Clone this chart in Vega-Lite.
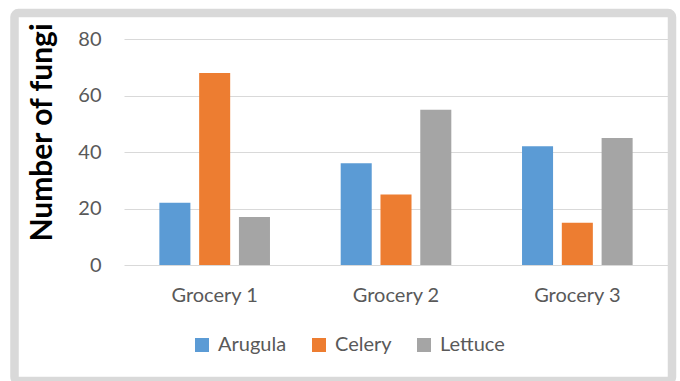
{
  "$schema": "https://vega.github.io/schema/vega-lite/v6.json",
  "autosize": {"type": "none"},
  "width": 657.5,
  "height": 368,
  "padding": {"left": 14.5, "top": 13, "right": 8, "bottom": 0},
  "background": "white",
  "view": {"fill": "white", "stroke": "#d9d9d9", "strokeWidth": 8.5, "cornerRadius": 4},
  "data": {
    "values": [
      {"store": "Grocery 1", "vegetable": "Arugula", "fungi": 22},
      {"store": "Grocery 1", "vegetable": "Celery", "fungi": 68},
      {"store": "Grocery 1", "vegetable": "Lettuce", "fungi": 17},
      {"store": "Grocery 2", "vegetable": "Arugula", "fungi": 36},
      {"store": "Grocery 2", "vegetable": "Celery", "fungi": 25},
      {"store": "Grocery 2", "vegetable": "Lettuce", "fungi": 55},
      {"store": "Grocery 3", "vegetable": "Arugula", "fungi": 42},
      {"store": "Grocery 3", "vegetable": "Celery", "fungi": 15},
      {"store": "Grocery 3", "vegetable": "Lettuce", "fungi": 45}
    ]
  },
  "mark": {"type": "bar"},
  "encoding": {
    "x": {
      "field": "store",
      "type": "nominal",
      "sort": ["Grocery 1", "Grocery 2", "Grocery 3"],
      "scale": {"range": [109.5, 653.5], "paddingInner": 0.39, "paddingOuter": 0.195},
      "axis": {
        "title": null,
        "orient": "bottom",
        "offset": -116,
        "domain": false,
        "ticks": false,
        "grid": false,
        "labelAngle": 0,
        "labelPadding": 20,
        "labelFont": "Lato",
        "labelFontSize": 20,
        "labelColor": "#595959"
      }
    },
    "xOffset": {
      "field": "vegetable",
      "type": "nominal",
      "sort": ["Arugula", "Celery", "Lettuce"],
      "scale": {"paddingInner": 0.22, "paddingOuter": 0}
    },
    "y": {
      "field": "fungi",
      "type": "quantitative",
      "scale": {"domain": [0, 80], "range": [252, 26], "nice": false, "zero": true},
      "axis": {
        "title": "Number of fungi",
        "values": [0, 20, 40, 60, 80],
        "offset": -86.5,
        "domain": false,
        "ticks": false,
        "grid": true,
        "gridColor": "#d9d9d9",
        "gridWidth": 1.2,
        "labelPadding": 0,
        "labelFont": "Lato",
        "labelFontSize": 20,
        "labelColor": "#595959",
        "titleFont": "Lato",
        "titleFontSize": 30,
        "titleFontWeight": "bold",
        "titleColor": "#000000",
        "titleX": -44,
        "titleY": 119,
        "titleAngle": -90,
        "titleAlign": "center",
        "titleBaseline": "bottom"
      }
    },
    "color": {
      "field": "vegetable",
      "type": "nominal",
      "sort": ["Arugula", "Celery", "Lettuce"],
      "scale": {"domain": ["Arugula", "Celery", "Lettuce"], "range": ["#5B9BD5", "#ED7D31", "#A5A5A5"]},
      "legend": {
        "title": null,
        "orient": "none",
        "legendX": 177.5,
        "legendY": 322,
        "direction": "horizontal",
        "padding": 0,
        "symbolType": "square",
        "symbolSize": 196,
        "symbolStrokeWidth": 0,
        "symbolOpacity": 1,
        "labelFont": "Lato",
        "labelFontSize": 20,
        "labelColor": "#595959",
        "labelOffset": 6,
        "columnPadding": 22
      }
    }
  }
}
